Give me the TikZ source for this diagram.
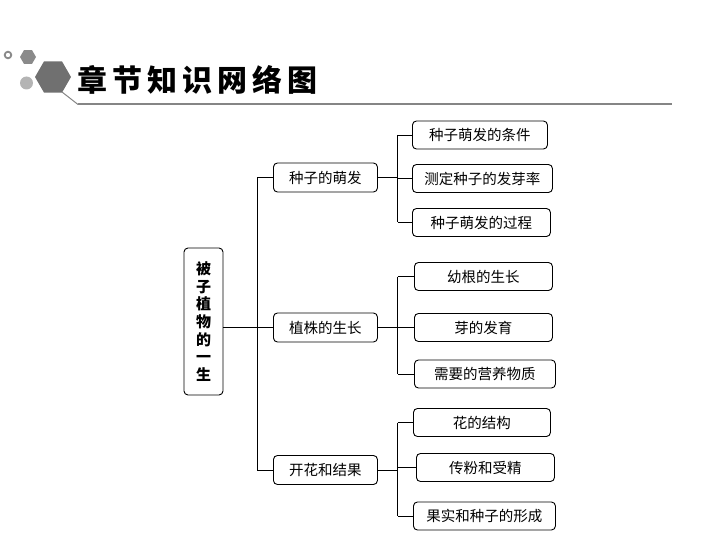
\documentclass[tikz,border=0pt]{standalone}
\usepackage{fontspec}
\newfontfamily\cjk{Noto Sans CJK SC}
\newfontfamily\titlefont[LetterSpace=17]{Noto Sans CJK SC}
\definecolor{hexdark}{HTML}{707070}
\definecolor{hexmid}{HTML}{8A8A8A}
\definecolor{dotlight}{HTML}{B4B4B4}
\definecolor{rulegray}{HTML}{858585}
\begin{document}
\begin{tikzpicture}[x=1pt,y=-1pt,
  box/.style={draw, rounded corners=4pt, line width=0.9pt, inner sep=0pt, anchor=west,
    minimum height=28pt, font=\cjk\fontsize{14.5}{16}\selectfont},
  lone/.style={box, minimum width=104pt, minimum height=29pt},
  ltwo/.style={box, minimum width=138pt},
  conn/.style={line width=0.9pt}]
\useasboundingbox (0,0) rectangle (720,540);
% header decoration
\draw[hexmid, line width=1.8pt, fill=white] (8,55) circle (3.3);
\fill[hexmid] (36,57) -- (32,50.1) -- (24,50.1) -- (20,57) -- (24,63.9) -- (32,63.9) -- cycle;
\fill[dotlight] (26.5,83) circle (6.5);
\fill[hexdark] (71,77) -- (62,61.4) -- (44,61.4) -- (35,77) -- (44,92.6) -- (62,92.6) -- cycle;
\draw[rulegray, line width=1pt] (62,92) -- (78,104.5);
\draw[rulegray, line width=2pt] (78,104.5) -- (672,104.5);
\node[anchor=west, inner sep=0pt, font=\titlefont\bfseries\fontsize{30}{31}\selectfont] (title) at (77,80) {章节知识网络图};
% root
\node[draw, rounded corners=4pt, line width=0.9pt, minimum width=39pt, minimum height=147pt, inner sep=0pt,
  align=center, font=\cjk\bfseries\fontsize{15}{17.6}\selectfont] (root) at (203.5,321.5)
  {被\\子\\植\\物\\的\\一\\生};
% level 1
\node[lone] (a) at (273,177.5) {种子的萌发};
\node[lone] (b) at (273,327.5) {植株的生长};
\node[lone] (c) at (273,470) {开花和结果};
% level 2
\node[ltwo, minimum width=135pt] (a1) at (412,135) {种子萌发的条件};
\node[ltwo, minimum width=140pt] (a2) at (412,178.5) {测定种子的发芽率};
\node[ltwo, minimum width=138pt] (a3) at (412,222.5) {种子萌发的过程};
\node[ltwo] (b1) at (414,276.5) {幼根的生长};
\node[ltwo] (b2) at (414,327.5) {芽的发育};
\node[ltwo, minimum width=141pt] (b3) at (414,374) {需要的营养物质};
\node[ltwo, minimum width=137pt] (c1) at (413,422.5) {花的结构};
\node[ltwo] (c2) at (416,467.5) {传粉和受精};
\node[ltwo, minimum width=142pt] (c3) at (413,516) {果实和种子的形成};
% connectors
\coordinate (t1) at (257,177.5);
\coordinate (t3) at (257,470);
\draw[conn] (root.east |- b.west) -- (b.west);
\draw[conn] (a.west) -- (t1) -- (t3) -- (c.west);
\foreach \p in {a,b,c}{
  \coordinate (\p m) at ([xshift=20pt]\p.east);
  \draw[conn] (\p.east) -- (\p m);
  \draw[conn] (\p m |- \p1.west) -- (\p m |- \p3.west);
  \draw[conn] (\p m |- \p1.west) -- (\p1.west);
  \draw[conn] (\p m |- \p2.west) -- (\p2.west);
  \draw[conn] (\p m |- \p3.west) -- (\p3.west);
}
\end{tikzpicture}
\end{document}
